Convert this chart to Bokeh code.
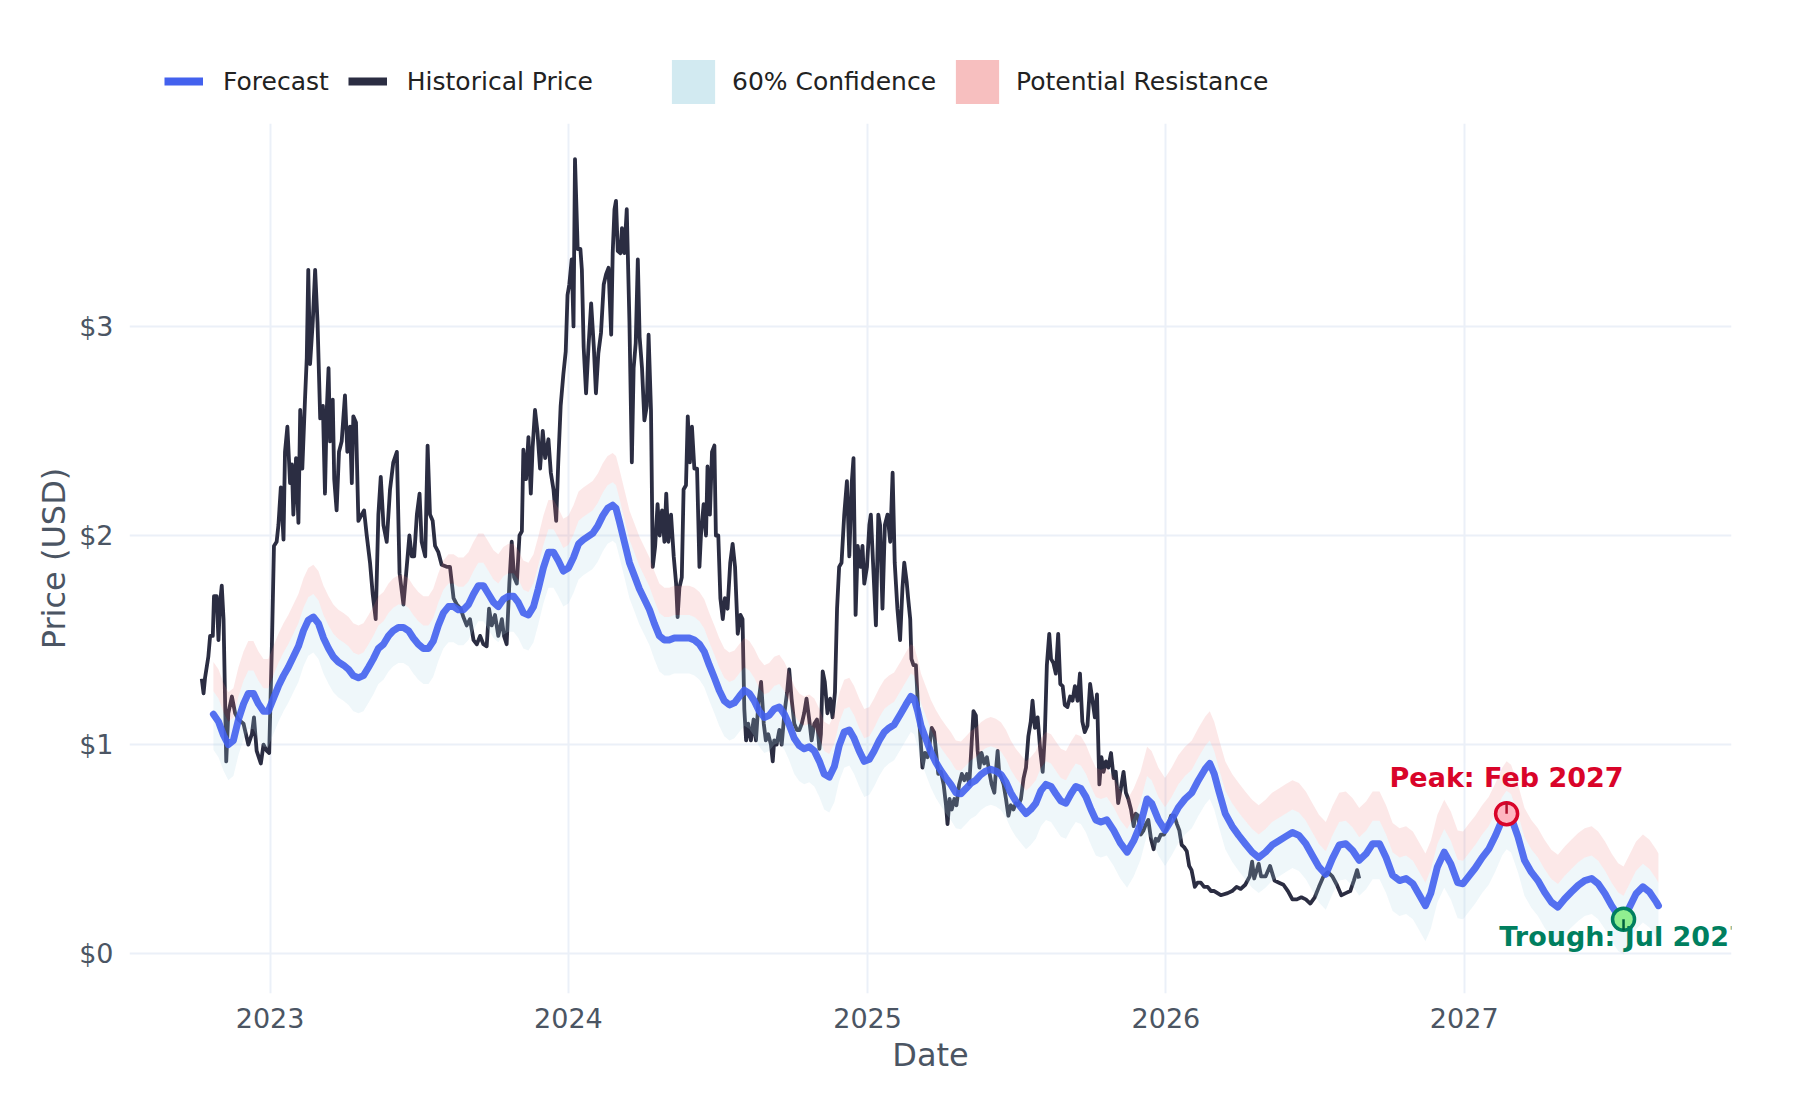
from datetime import datetime
import math
from bokeh.plotting import figure
from bokeh.layouts import column
from bokeh.models import (ColumnDataSource, Range1d, FixedTicker, DatetimeTickFormatter,
                          PrintfTickFormatter, Legend, LegendItem)
from bokeh.core.properties import value
from bokeh.embed import file_html
from bokeh.resources import INLINE

# ---------------- data (decimal years, USD) ----------------
hist_t = [2022.771, 2022.777, 2022.782, 2022.793, 2022.799, 2022.808, 2022.812, 2022.821, 2022.827, 2022.832,
          2022.838, 2022.844, 2022.853, 2022.860, 2022.872, 2022.883, 2022.894, 2022.911, 2022.927, 2022.939,
          2022.946, 2022.955, 2022.969, 2022.978, 2022.989, 2022.997, 2023.006, 2023.013, 2023.022, 2023.028,
          2023.036, 2023.045, 2023.050, 2023.058, 2023.067, 2023.073, 2023.078, 2023.087, 2023.095, 2023.101,
          2023.108, 2023.117, 2023.123, 2023.128, 2023.134, 2023.143, 2023.151, 2023.159, 2023.168, 2023.177,
          2023.184, 2023.190, 2023.196, 2023.201, 2023.210, 2023.215, 2023.223, 2023.231, 2023.240, 2023.251,
          2023.259, 2023.268, 2023.274, 2023.279, 2023.288, 2023.296, 2023.307, 2023.315, 2023.324, 2023.335,
          2023.344, 2023.354, 2023.363, 2023.371, 2023.380, 2023.391, 2023.402, 2023.413, 2023.425, 2023.434,
          2023.447, 2023.458, 2023.467, 2023.475, 2023.483, 2023.492, 2023.501, 2023.508, 2023.520, 2023.528,
          2023.536, 2023.545, 2023.553, 2023.564, 2023.575, 2023.592, 2023.603, 2023.615, 2023.626, 2023.639,
          2023.648, 2023.659, 2023.670, 2023.682, 2023.693, 2023.704, 2023.715, 2023.726, 2023.734, 2023.743,
          2023.754, 2023.765, 2023.777, 2023.784, 2023.793, 2023.802, 2023.810, 2023.818, 2023.827, 2023.836,
          2023.844, 2023.849, 2023.858, 2023.866, 2023.874, 2023.880, 2023.888, 2023.896, 2023.905, 2023.914,
          2023.922, 2023.933, 2023.941, 2023.950, 2023.959, 2023.966, 2023.974, 2023.983, 2023.991, 2023.997,
          2024.003, 2024.011, 2024.017, 2024.022, 2024.031, 2024.040, 2024.045, 2024.051, 2024.059, 2024.067,
          2024.076, 2024.085, 2024.092, 2024.100, 2024.109, 2024.118, 2024.126, 2024.134, 2024.143, 2024.148,
          2024.154, 2024.159, 2024.165, 2024.174, 2024.179, 2024.187, 2024.195, 2024.204, 2024.212, 2024.218,
          2024.225, 2024.232, 2024.238, 2024.246, 2024.254, 2024.262, 2024.268, 2024.276, 2024.282, 2024.290,
          2024.298, 2024.305, 2024.313, 2024.321, 2024.327, 2024.334, 2024.343, 2024.352, 2024.360, 2024.365,
          2024.371, 2024.379, 2024.385, 2024.393, 2024.399, 2024.406, 2024.413, 2024.421, 2024.430, 2024.438,
          2024.443, 2024.452, 2024.460, 2024.465, 2024.473, 2024.480, 2024.488, 2024.493, 2024.501, 2024.508,
          2024.516, 2024.523, 2024.532, 2024.541, 2024.549, 2024.557, 2024.566, 2024.575, 2024.582, 2024.588,
          2024.594, 2024.601, 2024.610, 2024.619, 2024.627, 2024.635, 2024.644, 2024.653, 2024.660, 2024.668,
          2024.677, 2024.683, 2024.688, 2024.696, 2024.705, 2024.713, 2024.722, 2024.731, 2024.738, 2024.746,
          2024.755, 2024.764, 2024.772, 2024.780, 2024.788, 2024.796, 2024.805, 2024.813, 2024.822, 2024.831,
          2024.839, 2024.844, 2024.850, 2024.857, 2024.866, 2024.875, 2024.883, 2024.891, 2024.898, 2024.905,
          2024.913, 2024.922, 2024.931, 2024.939, 2024.947, 2024.953, 2024.960, 2024.967, 2024.976, 2024.983,
          2024.989, 2024.998, 2025.006, 2025.011, 2025.020, 2025.028, 2025.036, 2025.042, 2025.050, 2025.058,
          2025.067, 2025.076, 2025.084, 2025.091, 2025.100, 2025.109, 2025.117, 2025.123, 2025.131, 2025.136,
          2025.143, 2025.147, 2025.154, 2025.162, 2025.168, 2025.177, 2025.184, 2025.192, 2025.201, 2025.207,
          2025.215, 2025.223, 2025.230, 2025.237, 2025.246, 2025.255, 2025.263, 2025.268, 2025.275, 2025.282,
          2025.291, 2025.298, 2025.307, 2025.316, 2025.324, 2025.333, 2025.341, 2025.349, 2025.355, 2025.363,
          2025.369, 2025.375, 2025.382, 2025.391, 2025.400, 2025.408, 2025.416, 2025.425, 2025.430, 2025.436,
          2025.441, 2025.449, 2025.456, 2025.464, 2025.472, 2025.480, 2025.489, 2025.497, 2025.505, 2025.514,
          2025.523, 2025.531, 2025.539, 2025.547, 2025.553, 2025.561, 2025.570, 2025.579, 2025.587, 2025.594,
          2025.601, 2025.609, 2025.615, 2025.623, 2025.631, 2025.639, 2025.646, 2025.654, 2025.661, 2025.670,
          2025.679, 2025.687, 2025.695, 2025.704, 2025.712, 2025.720, 2025.728, 2025.737, 2025.746, 2025.754,
          2025.762, 2025.769, 2025.777, 2025.784, 2025.791, 2025.799, 2025.807, 2025.816, 2025.825, 2025.832,
          2025.840, 2025.849, 2025.858, 2025.866, 2025.874, 2025.883, 2025.892, 2025.899, 2025.907, 2025.916,
          2025.925, 2025.933, 2025.941, 2025.950, 2025.959, 2025.966, 2025.974, 2025.983, 2025.994, 2026.006,
          2026.017, 2026.028, 2026.037, 2026.045, 2026.053, 2026.061, 2026.070, 2026.078, 2026.086, 2026.093,
          2026.097, 2026.106, 2026.117, 2026.128, 2026.140, 2026.151, 2026.162, 2026.173, 2026.184, 2026.207,
          2026.222, 2026.237, 2026.251, 2026.266, 2026.281, 2026.289, 2026.296, 2026.311, 2026.319, 2026.334,
          2026.349, 2026.364, 2026.379, 2026.394, 2026.409, 2026.424, 2026.439, 2026.454, 2026.469, 2026.484,
          2026.499, 2026.513, 2026.528, 2026.543, 2026.558, 2026.573, 2026.588, 2026.603, 2026.618, 2026.630,
          2026.641, 2026.648]
hist_price = [1.315, 1.245, 1.32, 1.42, 1.52, 1.52, 1.71, 1.71, 1.50, 1.67,
              1.76, 1.60, 0.92, 1.15, 1.23, 1.15, 1.12, 1.10, 1.00, 1.05,
              1.13, 0.97, 0.91, 1.00, 0.97, 0.96, 1.47, 1.95, 1.97, 2.05,
              2.23, 1.98, 2.40, 2.52, 2.25, 2.34, 2.10, 2.37, 2.06, 2.60,
              2.32, 2.65, 2.85, 3.27, 2.82, 3.02, 3.27, 3.02, 2.56, 2.62,
              2.20, 2.60, 2.80, 2.45, 2.65, 2.27, 2.12, 2.40, 2.45, 2.67,
              2.40, 2.52, 2.25, 2.57, 2.54, 2.07, 2.10, 2.12, 2.00, 1.87,
              1.72, 1.60, 2.10, 2.28, 2.05, 1.97, 2.22, 2.35, 2.40, 1.82,
              1.67, 1.85, 2.00, 1.90, 1.90, 2.10, 2.20, 1.97, 1.90, 2.43,
              2.10, 2.07, 1.95, 1.92, 1.86, 1.85, 1.85, 1.70, 1.67, 1.65,
              1.61, 1.57, 1.60, 1.50, 1.48, 1.52, 1.48, 1.47, 1.65, 1.57,
              1.62, 1.52, 1.60, 1.52, 1.48, 1.77, 1.97, 1.80, 1.77, 2.00,
              2.02, 2.41, 2.27, 2.47, 2.20, 2.42, 2.60, 2.50, 2.32, 2.50,
              2.37, 2.46, 2.30, 2.22, 2.07, 2.35, 2.62, 2.77, 2.88, 3.15,
              3.20, 3.32, 3.00, 3.80, 3.37, 3.37, 3.27, 2.90, 2.68, 2.90,
              3.11, 2.90, 2.68, 2.87, 2.97, 3.20, 3.25, 3.28, 2.96, 3.35,
              3.56, 3.60, 3.36, 3.35, 3.47, 3.35, 3.56, 3.02, 2.35, 2.80,
              2.92, 3.32, 2.95, 2.80, 2.55, 2.62, 2.96, 2.60, 1.85, 1.95,
              2.15, 2.00, 2.12, 1.97, 2.20, 1.97, 2.10, 1.90, 1.77, 1.61,
              1.75, 1.80, 2.22, 2.24, 2.57, 2.35, 2.52, 2.32, 2.32, 1.85,
              2.00, 2.15, 2.00, 2.33, 2.10, 2.40, 2.43, 2.00, 2.00, 1.70,
              1.60, 1.70, 1.65, 1.87, 1.96, 1.85, 1.53, 1.62, 1.60, 1.17,
              1.02, 1.10, 1.02, 1.12, 1.02, 1.20, 1.30, 1.10, 1.02, 1.05,
              1.00, 0.92, 1.02, 1.00, 1.07, 1.00, 1.15, 1.25, 1.36, 1.22,
              1.10, 1.07, 1.07, 1.10, 1.15, 1.22, 1.12, 1.02, 1.10, 1.12,
              0.98, 1.05, 1.35, 1.30, 1.15, 1.22, 1.13, 1.25, 1.65, 1.85,
              1.87, 2.10, 2.26, 1.90, 2.25, 2.37, 1.62, 1.95, 1.85, 1.95,
              1.77, 1.85, 2.05, 2.10, 1.82, 1.57, 2.10, 2.05, 1.65, 2.05,
              2.10, 1.97, 2.30, 1.87, 1.65, 1.50, 1.75, 1.87, 1.78, 1.70,
              1.60, 1.41, 1.38, 1.38, 1.21, 1.04, 0.89, 0.96, 0.94, 0.99,
              1.08, 1.06, 0.96, 0.86, 0.87, 0.81, 0.71, 0.62, 0.74, 0.69,
              0.74, 0.71, 0.81, 0.86, 0.83, 0.86, 0.81, 1.01, 1.16, 1.14,
              0.97, 0.89, 0.96, 0.91, 0.94, 0.87, 0.81, 0.77, 0.87, 0.97,
              0.87, 0.84, 0.81, 0.74, 0.66, 0.71, 0.69, 0.72, 0.71, 0.74,
              0.84, 0.89, 1.04, 1.11, 1.21, 1.08, 1.13, 0.97, 0.87, 1.04,
              1.38, 1.53, 1.41, 1.39, 1.34, 1.53, 1.29, 1.28, 1.19, 1.18,
              1.23, 1.21, 1.28, 1.21, 1.34, 1.11, 1.06, 1.09, 1.29, 1.21,
              1.13, 1.24, 0.81, 0.94, 0.87, 0.92, 0.89, 0.96, 0.84, 0.87,
              0.72, 0.79, 0.87, 0.77, 0.74, 0.69, 0.61, 0.67, 0.66, 0.57,
              0.59, 0.62, 0.64, 0.55, 0.50, 0.55, 0.54, 0.57, 0.57, 0.61,
              0.66, 0.66, 0.62, 0.59, 0.52, 0.51, 0.49, 0.42, 0.40, 0.35,
              0.32, 0.34, 0.34, 0.32, 0.32, 0.30, 0.30, 0.29, 0.28, 0.29,
              0.30, 0.32, 0.31, 0.33, 0.37, 0.44, 0.36, 0.43, 0.37, 0.37,
              0.42, 0.35, 0.34, 0.33, 0.30, 0.26, 0.26, 0.27, 0.26, 0.24,
              0.27, 0.32, 0.37, 0.39, 0.37, 0.33, 0.28, 0.29, 0.30, 0.35,
              0.40, 0.36]

fc_t = [2022.810, 2022.827, 2022.844, 2022.860, 2022.877, 2022.894, 2022.911, 2022.927, 2022.944, 2022.961,
        2022.978, 2022.994, 2023.011, 2023.028, 2023.045, 2023.061, 2023.078, 2023.095, 2023.112, 2023.128,
        2023.145, 2023.162, 2023.179, 2023.196, 2023.212, 2023.229, 2023.246, 2023.263, 2023.279, 2023.296,
        2023.313, 2023.330, 2023.346, 2023.363, 2023.380, 2023.397, 2023.413, 2023.430, 2023.447, 2023.464,
        2023.480, 2023.497, 2023.514, 2023.531, 2023.547, 2023.564, 2023.581, 2023.598, 2023.615, 2023.631,
        2023.648, 2023.665, 2023.682, 2023.698, 2023.715, 2023.732, 2023.749, 2023.765, 2023.782, 2023.799,
        2023.816, 2023.832, 2023.849, 2023.866, 2023.883, 2023.899, 2023.916, 2023.933, 2023.950, 2023.966,
        2023.983, 2024.000, 2024.017, 2024.034, 2024.050, 2024.081, 2024.098, 2024.115, 2024.131, 2024.148,
        2024.159, 2024.170, 2024.187, 2024.204, 2024.220, 2024.237, 2024.254, 2024.271, 2024.287, 2024.304,
        2024.321, 2024.337, 2024.354, 2024.371, 2024.388, 2024.404, 2024.421, 2024.438, 2024.454, 2024.471,
        2024.488, 2024.504, 2024.521, 2024.538, 2024.555, 2024.571, 2024.588, 2024.605, 2024.621, 2024.638,
        2024.655, 2024.671, 2024.688, 2024.705, 2024.722, 2024.738, 2024.755, 2024.772, 2024.788, 2024.805,
        2024.822, 2024.839, 2024.855, 2024.872, 2024.889, 2024.905, 2024.922, 2024.939, 2024.955, 2024.972,
        2024.989, 2025.006, 2025.022, 2025.039, 2025.056, 2025.072, 2025.089, 2025.112, 2025.128, 2025.145,
        2025.156, 2025.168, 2025.179, 2025.196, 2025.212, 2025.229, 2025.246, 2025.263, 2025.279, 2025.296,
        2025.313, 2025.330, 2025.346, 2025.363, 2025.380, 2025.397, 2025.413, 2025.430, 2025.447, 2025.464,
        2025.480, 2025.497, 2025.514, 2025.531, 2025.547, 2025.564, 2025.581, 2025.598, 2025.615, 2025.631,
        2025.648, 2025.665, 2025.682, 2025.698, 2025.715, 2025.732, 2025.749, 2025.765, 2025.782, 2025.802,
        2025.825, 2025.847, 2025.870, 2025.892, 2025.915, 2025.937, 2025.952, 2025.975, 2025.997, 2026.019,
        2026.042, 2026.064, 2026.087, 2026.109, 2026.132, 2026.147, 2026.162, 2026.177, 2026.199, 2026.222,
        2026.244, 2026.266, 2026.289, 2026.311, 2026.334, 2026.356, 2026.379, 2026.401, 2026.424, 2026.446,
        2026.469, 2026.491, 2026.513, 2026.536, 2026.558, 2026.581, 2026.603, 2026.626, 2026.648, 2026.671,
        2026.693, 2026.716, 2026.738, 2026.760, 2026.783, 2026.805, 2026.828, 2026.850, 2026.870, 2026.888,
        2026.910, 2026.933, 2026.955, 2026.978, 2026.996, 2027.015, 2027.037, 2027.060, 2027.082, 2027.105,
        2027.127, 2027.142, 2027.157, 2027.180, 2027.202, 2027.225, 2027.247, 2027.269, 2027.292, 2027.314,
        2027.337, 2027.359, 2027.382, 2027.404, 2027.427, 2027.449, 2027.472, 2027.494, 2027.516, 2027.534,
        2027.554, 2027.576, 2027.599, 2027.621, 2027.644, 2027.651]
fc_price = [1.145, 1.11, 1.045, 1.00, 1.02, 1.12, 1.195, 1.245, 1.245, 1.195,
            1.16, 1.16, 1.22, 1.28, 1.33, 1.37, 1.42, 1.47, 1.545, 1.595,
            1.61, 1.58, 1.51, 1.46, 1.42, 1.395, 1.38, 1.36, 1.33, 1.32,
            1.33, 1.37, 1.41, 1.46, 1.48, 1.52, 1.545, 1.56, 1.56, 1.545,
            1.51, 1.48, 1.46, 1.46, 1.495, 1.57, 1.63, 1.66, 1.66, 1.645,
            1.645, 1.67, 1.72, 1.76, 1.76, 1.72, 1.68, 1.66, 1.695, 1.71,
            1.71, 1.68, 1.63, 1.62, 1.66, 1.745, 1.845, 1.92, 1.92, 1.88,
            1.83, 1.845, 1.895, 1.96, 1.98, 2.01, 2.045, 2.095, 2.13, 2.145,
            2.13, 2.07, 1.97, 1.87, 1.81, 1.745, 1.695, 1.645, 1.58, 1.52,
            1.50, 1.50, 1.51, 1.51, 1.51, 1.51, 1.50, 1.48, 1.445, 1.38,
            1.32, 1.26, 1.21, 1.19, 1.20, 1.23, 1.26, 1.245, 1.21, 1.16,
            1.13, 1.14, 1.17, 1.18, 1.145, 1.095, 1.03, 0.995, 0.98, 0.99,
            0.97, 0.92, 0.86, 0.845, 0.895, 0.995, 1.06, 1.07, 1.03, 0.97,
            0.92, 0.93, 0.97, 1.02, 1.06, 1.08, 1.095, 1.15, 1.19, 1.23,
            1.22, 1.16, 1.09, 1.025, 0.965, 0.915, 0.875, 0.84, 0.81, 0.77,
            0.765, 0.79, 0.815, 0.83, 0.857, 0.874, 0.882, 0.874, 0.857, 0.82,
            0.77, 0.73, 0.70, 0.67, 0.69, 0.72, 0.78, 0.81, 0.80, 0.765,
            0.73, 0.72, 0.765, 0.80, 0.79, 0.75, 0.69, 0.64, 0.63, 0.64,
            0.59, 0.53, 0.486, 0.54, 0.62, 0.74, 0.72, 0.64, 0.59, 0.64,
            0.70, 0.74, 0.77, 0.83, 0.885, 0.91, 0.86, 0.78, 0.67, 0.61,
            0.566, 0.526, 0.486, 0.46, 0.486, 0.52, 0.54, 0.56, 0.58, 0.566,
            0.526, 0.47, 0.415, 0.38, 0.455, 0.52, 0.526, 0.494, 0.447, 0.478,
            0.526, 0.526, 0.46, 0.375, 0.35, 0.36, 0.335, 0.28, 0.23, 0.29,
            0.415, 0.486, 0.43, 0.34, 0.335, 0.37, 0.41, 0.46, 0.50, 0.566,
            0.64, 0.67, 0.654, 0.56, 0.447, 0.39, 0.35, 0.295, 0.247, 0.223,
            0.263, 0.295, 0.327, 0.35, 0.36, 0.335, 0.287, 0.23, 0.183, 0.167,
            0.223, 0.287, 0.32, 0.295, 0.247, 0.23]

# band widths around the forecast (USD)
conf_below = 0.17
conf_above = 0.11
resist_above = 0.25

peak_t, peak_price, peak_label = [2027.142], [0.67], ["Peak: Feb 2027"]
trough_t, trough_price, trough_label = [2027.534], [0.165], ["Trough: Jul 2027"]

tick_years = [2023, 2024, 2025, 2026, 2027]
price_ticks = [0, 1, 2, 3]


def to_dt(t):
    y = int(math.floor(t))
    start, end = datetime(y, 1, 1), datetime(y + 1, 1, 1)
    return start + (end - start) * (t - y)


hist_src = ColumnDataSource(dict(x=[to_dt(t) for t in hist_t], y=hist_price))
fc_x = [to_dt(t) for t in fc_t]
fc_src = ColumnDataSource(dict(
    x=fc_x, y=fc_price,
    lo=[v - conf_below for v in fc_price],
    hi=[v + conf_above for v in fc_price],
    top=[v + resist_above for v in fc_price],
))

FONT = "DejaVu Sans"
GRID = "#EBF0F8"
AXIS_TXT = "#4b5563"
W = 1784
LEG_H = 110
MAIN_H = 1084 - LEG_H
BORDER_L, BORDER_R = 129, 53

# ---------------- main chart ----------------
p = figure(width=W, height=MAIN_H, x_axis_type="datetime",
           output_backend="svg", toolbar_location=None,
           min_border_left=BORDER_L, min_border_right=BORDER_R,
           min_border_top=123 - LEG_H, min_border_bottom=91,
           x_range=Range1d(datetime(2022, 7, 13), datetime(2027, 11, 24)),
           y_range=Range1d(-0.19, 3.97))
p.outline_line_color = None
p.background_fill_color = "white"
p.border_fill_color = "white"

p.line("x", "y", source=hist_src, line_color="#2B2D42", line_width=3.8, line_join="round")
p.varea(x="x", y1="lo", y2="hi", source=fc_src, fill_color="#ADD8E6", fill_alpha=0.2)
p.varea(x="x", y1="hi", y2="top", source=fc_src, fill_color="#F08080", fill_alpha=0.18)
p.line("x", "y", source=fc_src, line_color="#4361EE", line_alpha=0.9, line_width=7,
       line_join="round", line_cap="round")

pk = ColumnDataSource(dict(x=[to_dt(t) for t in peak_t], y=peak_price, t=peak_label))
tr = ColumnDataSource(dict(x=[to_dt(t) for t in trough_t], y=trough_price, t=trough_label))
p.scatter("x", "y", source=pk, size=22, fill_color="#FFB6C1", line_color="#D90429", line_width=3.5)
p.ray("x", "y", source=pk, length=11, length_units="screen", angle=math.pi / 2,
      line_color="#B0122E", line_width=2.5)
p.scatter("x", "y", source=tr, size=22, fill_color="#90EE90", line_color="#007F5F", line_width=3.5)
p.ray("x", "y", source=tr, length=11, length_units="screen", angle=-math.pi / 2,
      line_color="#00603F", line_width=2.5)
p.text("x", "y", text="t", source=pk, text_font=value(FONT), text_font_style="bold",
       text_font_size="27px", text_color="#D90429", text_align="center",
       text_baseline="alphabetic", y_offset=-36)
p.text("x", "y", text="t", source=tr, text_font=value(FONT), text_font_style="bold",
       text_font_size="27px", text_color="#007F5F", text_align="center",
       text_baseline="alphabetic", y_offset=17)

p.xaxis.ticker = FixedTicker(ticks=[datetime(y, 1, 1).timestamp() * 1000 for y in tick_years])
p.xaxis.formatter = DatetimeTickFormatter(years="%Y", months="%Y", days="%Y", hours="%Y",
                                          minutes="%Y", seconds="%Y", milliseconds="%Y")
p.yaxis.ticker = FixedTicker(ticks=price_ticks)
p.yaxis.formatter = PrintfTickFormatter(format="$%d")
for ax in (p.xaxis[0], p.yaxis[0]):
    ax.axis_line_color = None
    ax.major_tick_line_color = None
    ax.minor_tick_line_color = None
    ax.major_tick_out = 0
    ax.major_tick_in = 0
    ax.major_label_text_font = FONT
    ax.major_label_text_font_size = "27px"
    ax.major_label_text_color = AXIS_TXT
    ax.axis_label_text_font = FONT
    ax.axis_label_text_font_size = "32px"
    ax.axis_label_text_font_style = "normal"
    ax.axis_label_text_color = AXIS_TXT
p.xaxis.axis_label = "Date"
p.yaxis.axis_label = "Price (USD)"
p.xaxis.major_label_standoff = 14
p.yaxis.major_label_standoff = 16
p.xaxis.axis_label_standoff = 5
p.yaxis.axis_label_standoff = 3

p.xgrid.ticker = p.xaxis[0].ticker
p.ygrid.ticker = p.yaxis[0].ticker
for g in (p.xgrid[0], p.ygrid[0]):
    g.grid_line_color = GRID
    g.grid_line_width = 2

# ---------------- legend strip (frame aligned with the chart frame) ----------------
lf = figure(width=W, height=LEG_H, output_backend="svg", toolbar_location=None,
            x_axis_location=None, y_axis_location=None,
            min_border_left=BORDER_L, min_border_right=BORDER_R, min_border_top=0, min_border_bottom=0,
            x_range=Range1d(0, 1), y_range=Range1d(0, 1))
lf.outline_line_color = None
lf.xgrid.visible = False
lf.ygrid.visible = False
lf.border_fill_color = "white"
lf.background_fill_color = "white"

nan = float("nan")
lg_fc = lf.line(x=[nan], y=[nan], line_color="#4361EE", line_width=8)
lg_hist = lf.line(x=[nan], y=[nan], line_color="#2B2D42", line_width=8)
lg_ci = lf.quad(left=[nan], right=[nan], top=[nan], bottom=[nan],
                fill_color="#ADD8E6", fill_alpha=0.55, line_alpha=0)
lg_res = lf.quad(left=[nan], right=[nan], top=[nan], bottom=[nan],
                 fill_color="#F08080", fill_alpha=0.5, line_alpha=0)

common = dict(orientation="horizontal", padding=0, margin=0, border_line_alpha=0,
              background_fill_alpha=0, label_text_font=FONT, label_text_font_size="25px",
              label_text_color="#222222")
leg1 = Legend(items=[LegendItem(label="Forecast", renderers=[lg_fc]),
                     LegendItem(label="Historical Price", renderers=[lg_hist])],
              location=(164 - BORDER_L, LEG_H - 103), glyph_width=39, glyph_height=44,
              label_standoff=20, spacing=19, **common)
leg2 = Legend(items=[LegendItem(label="60% Confidence", renderers=[lg_ci]),
                     LegendItem(label="Potential Resistance", renderers=[lg_res])],
              location=(666 - BORDER_L, LEG_H - 109), glyph_width=54, glyph_height=55,
              label_standoff=12, spacing=14, **common)
lf.add_layout(leg1, "center")
lf.add_layout(leg2, "center")

layout = column(lf, p, spacing=0)
open("out.html", "w").write(file_html(layout, INLINE))
